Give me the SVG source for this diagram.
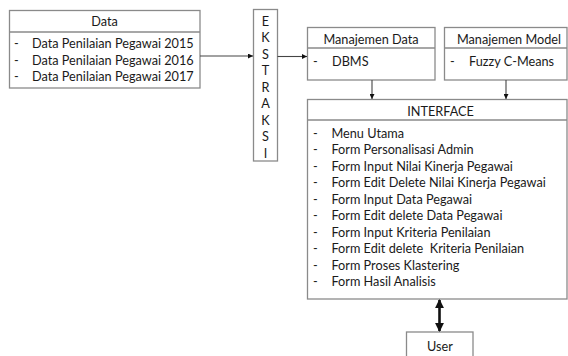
<svg xmlns="http://www.w3.org/2000/svg" width="568" height="356" viewBox="0 0 568 356">
  <style>
    .box { fill: #ffffff; stroke: #8a8a8a; stroke-width: 1.3; }
    .sep { stroke: #8a8a8a; stroke-width: 1.3; }
    .t { font-family: Lato, "Liberation Sans", sans-serif; font-size: 12.7px; fill: #1a1a1a; }
    .c { text-anchor: middle; }
    .link { stroke: #444444; stroke-width: 1.1; fill: none; }
    .thick { stroke: #111111; stroke-width: 2.6; fill: none; }
  </style>
  <defs>
    <marker id="arr" viewBox="0 0 10 10" refX="10" refY="5" markerWidth="5" markerHeight="5" markerUnits="userSpaceOnUse" orient="auto">
      <path d="M0,0 L10,5 L0,10 Z" fill="#111111"/>
    </marker>
    <marker id="arrBig" viewBox="0 0 10 10" refX="9" refY="5" markerWidth="9" markerHeight="9" markerUnits="userSpaceOnUse" orient="auto-start-reverse">
      <path d="M0,0 L10,5 L0,10 Z" fill="#111111"/>
    </marker>
  </defs>

  <!-- source data -->
  <g id="data">
    <rect class="box" x="9.5" y="10.5" width="190.5" height="77.5"/>
    <line class="sep" x1="9.5" y1="32" x2="200" y2="32"/>
    <text class="t c" x="104.5" y="26">Data</text>
    <text class="t" x="14" y="47.5">-</text><text class="t" x="32" y="47.5">Data Penilaian Pegawai 2015</text>
    <text class="t" x="14" y="64.5">-</text><text class="t" x="32" y="64.5">Data Penilaian Pegawai 2016</text>
    <text class="t" x="14" y="81">-</text><text class="t" x="32" y="81">Data Penilaian Pegawai 2017</text>
  </g>

  <!-- extraction step -->
  <g id="ekstraksi">
    <rect class="box" x="253.5" y="9.5" width="24" height="151.5"/>
    <text class="t c" x="265.5" y="25.5">E</text>
    <text class="t c" x="265.5" y="42">K</text>
    <text class="t c" x="265.5" y="58.5">S</text>
    <text class="t c" x="265.5" y="75">T</text>
    <text class="t c" x="265.5" y="91.5">R</text>
    <text class="t c" x="265.5" y="108">A</text>
    <text class="t c" x="265.5" y="124.5">K</text>
    <text class="t c" x="265.5" y="141">S</text>
    <text class="t c" x="265.5" y="157.5">I</text>
  </g>

  <!-- data management -->
  <g id="manajemen-data">
    <rect class="box" x="307.5" y="27.5" width="127.5" height="52.5"/>
    <line class="sep" x1="307.5" y1="48" x2="435" y2="48"/>
    <text class="t c" x="371" y="43.5">Manajemen Data</text>
    <text class="t" x="313" y="65.5">-</text><text class="t" x="332" y="65.5">DBMS</text>
  </g>

  <!-- model management -->
  <g id="manajemen-model">
    <rect class="box" x="444.5" y="27.5" width="122.5" height="52.5"/>
    <line class="sep" x1="444.5" y1="48" x2="567" y2="48"/>
    <text class="t c" x="509" y="43.5">Manajemen Model</text>
    <text class="t" x="450" y="65.5">-</text><text class="t" x="469" y="65.5">Fuzzy C-Means</text>
  </g>

  <!-- user interface -->
  <g id="interface">
    <rect class="box" x="307.5" y="99.5" width="259.5" height="199.5"/>
    <line class="sep" x1="307.5" y1="120" x2="567" y2="120"/>
    <text class="t c" x="440.5" y="115.5">INTERFACE</text>
    <g>
      <text class="t" x="313" y="137.5">-</text><text class="t" x="331.5" y="137.5">Menu Utama</text>
      <text class="t" x="313" y="154">-</text><text class="t" x="331.5" y="154">Form Personalisasi Admin</text>
      <text class="t" x="313" y="170.5">-</text><text class="t" x="331.5" y="170.5">Form Input Nilai Kinerja Pegawai</text>
      <text class="t" x="313" y="187">-</text><text class="t" x="331.5" y="187">Form Edit Delete Nilai Kinerja Pegawai</text>
      <text class="t" x="313" y="203.5">-</text><text class="t" x="331.5" y="203.5">Form Input Data Pegawai</text>
      <text class="t" x="313" y="220">-</text><text class="t" x="331.5" y="220">Form Edit delete Data Pegawai</text>
      <text class="t" x="313" y="236.5">-</text><text class="t" x="331.5" y="236.5">Form Input Kriteria Penilaian</text>
      <text class="t" x="313" y="253">-</text><text class="t" x="331.5" y="253" xml:space="preserve">Form Edit delete  Kriteria Penilaian</text>
      <text class="t" x="313" y="269.5">-</text><text class="t" x="331.5" y="269.5">Form Proses Klastering</text>
      <text class="t" x="313" y="286">-</text><text class="t" x="331.5" y="286">Form Hasil Analisis</text>
    </g>
  </g>

  <!-- end user -->
  <g id="user">
    <rect class="box" x="406.5" y="332" width="66.5" height="30"/>
    <text class="t c" x="440" y="351">User</text>
  </g>

  <!-- connectors -->
  <g id="connectors">
    <line class="link" x1="200" y1="56" x2="253" y2="56" marker-end="url(#arr)"/>
    <line class="link" x1="277.5" y1="56.5" x2="307" y2="56.5" marker-end="url(#arr)"/>
    <line class="link" x1="372" y1="80" x2="372" y2="99" marker-end="url(#arr)"/>
    <line class="link" x1="506" y1="80" x2="506" y2="99" marker-end="url(#arr)"/>
    <line class="thick" x1="439.5" y1="300" x2="439.5" y2="331" marker-start="url(#arrBig)" marker-end="url(#arrBig)"/>
  </g>
</svg>
